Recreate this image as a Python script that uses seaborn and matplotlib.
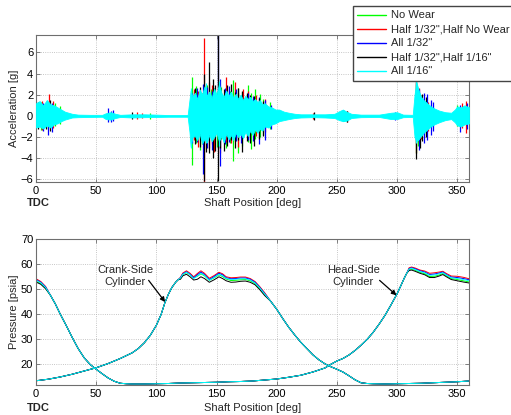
import numpy as np
import pandas as pd
import matplotlib
matplotlib.use("Agg")
import matplotlib.pyplot as plt
from matplotlib.lines import Line2D
import seaborn as sns

# ---------------------------------------------------------------- series
series = ['No Wear', 'Half 1/32",Half No Wear', 'All 1/32"',
          'Half 1/32",Half 1/16"', 'All 1/16"']
colors = ['#00ff00', '#ff0000', '#0000ff', '#000000', '#00ffff']

# ------------------------------------------------- crosshead acceleration
# envelope of the "All 1/16"" trace (deg, upper g, lower g)
acc_env_deg = [0, 3, 6, 9, 12, 15, 18, 21, 24, 27, 30, 35, 45, 55, 58, 62, 66,
               70, 80, 90, 100, 110, 126, 127.5, 128.5, 130, 132, 134, 136,
               138, 140, 142, 144, 146, 148, 150, 152, 154, 156, 158, 160,
               162, 164, 166, 168, 170, 172, 174, 176, 178, 180, 182, 184,
               186, 188, 190, 193, 196, 199, 202, 206, 210, 215, 220, 230,
               240, 248, 252, 255, 258, 262, 270, 285, 295, 300, 305, 313,
               314.5, 316, 318, 320, 322, 325, 328, 331, 335, 340, 345, 348,
               350, 353, 356, 360]
acc_env_hi = [1.2, 1.4, 1.0, 1.5, 1.1, 1.0, 0.8, 0.6, 0.4, 0.3, 0.2, 0.12,
              0.1, 0.1, 0.25, 0.35, 0.2, 0.1, 0.15, 0.15, 0.12, 0.08, 0.08,
              1.5, 2.4, 1.8, 2.2, 1.6, 2.5, 2.0, 2.8, 1.9, 2.3, 1.7, 2.6,
              2.0, 3.0, 2.2, 1.8, 2.4, 1.9, 2.3, 1.7, 2.1, 1.6, 2.0, 1.5,
              1.9, 1.6, 1.8, 1.4, 1.6, 1.3, 1.5, 1.1, 1.2, 0.9, 0.8, 0.6,
              0.6, 0.4, 0.3, 0.2, 0.15, 0.15, 0.15, 0.2, 0.45, 0.6, 0.4, 0.2,
              0.12, 0.12, 0.3, 0.35, 0.12, 0.1, 2.0, 3.2, 2.4, 1.8, 1.5, 1.2,
              0.9, 0.7, 0.5, 0.35, 0.3, 0.6, 0.9, 0.8, 1.0, 0.8]
acc_env_lo = [-1.1, -1.0, -1.2, -0.9, -1.1, -0.8, -0.7, -0.5, -0.35, -0.25,
              -0.15, -0.12, -0.1, -0.08, -0.3, -0.35, -0.2, -0.1, -0.15,
              -0.12, -0.1, -0.08, -0.08, -1.5, -2.9, -2.0, -1.9, -2.3, -1.7,
              -2.6, -2.2, -2.5, -1.8, -2.4, -2.0, -1.6, -2.4, -1.9, -2.5,
              -1.7, -2.2, -1.8, -2.3, -1.6, -2.0, -1.7, -2.1, -1.5, -1.9,
              -1.4, -1.8, -1.3, -1.6, -1.2, -1.4, -1.0, -1.1, -0.8, -0.7,
              -0.5, -0.4, -0.3, -0.2, -0.15, -0.12, -0.15, -0.2, -0.4, -0.5,
              -0.45, -0.2, -0.12, -0.1, -0.3, -0.3, -0.12, -0.1, -2.0, -2.4,
              -2.2, -1.9, -1.6, -1.3, -1.0, -0.8, -0.6, -0.4, -0.3, -0.6,
              -0.9, -1.0, -0.8, -0.7]

# individual excursions of each trace: (deg, min g, max g)
acc_peaks = {
    'No Wear': [(4, -1.3, 1.3), (10, -1.2, 1.3), (16, -1.0, 1.2),
                (20, -0.8, 0.9), (95, -0.25, 0.25), (129.4, -4.6, 3.7),
                (131, -2.2, 2.4), (133, -2.6, 2.8), (136, -3.2, 1.5),
                (138, -2.7, 2.2), (142, -2.4, 2.9), (145, -2.0, 2.5),
                (150, -2.9, 2.3), (154, -2.2, 2.7), (158, -3.0, 2.0),
                (161, -2.6, 2.4), (164, -4.3, 3.4), (168, -3.5, 2.6),
                (171, -2.8, 2.3), (176, -2.5, 2.9), (179, -3.1, 2.2),
                (182, -2.2, 2.5), (186, -2.0, 2.1), (189, -1.8, 1.6),
                (194, -1.2, 1.3), (256, -0.5, 0.5), (298, -0.3, 0.3),
                (315.5, -3.5, 3.0), (317, -2.8, 2.2), (320, -2.0, 1.6),
                (324, -1.6, 1.4), (350, -1.0, 1.0)],
    'Half 1/32",Half No Wear': [(5, -1.3, 1.4), (11, -1.0, 2.1),
                (14, -1.1, 1.4), (84, -0.3, 0.4), (88, -0.2, 0.3),
                (131, -2.3, 2.5), (135, -2.9, 2.4), (139.8, -6.3, 7.4),
                (144, -3.0, 3.2), (146, -2.7, 2.9), (148, -3.4, 2.6),
                (153, -3.5, 2.8), (158, -2.5, 3.7), (162, -2.6, 2.3),
                (165, -2.4, 3.2), (168, -2.9, 2.2), (172, -1.8, 2.5),
                (176, -2.0, 2.4), (183, -1.9, 2.0), (190, -1.5, 1.6),
                (230, -0.3, 0.3), (258, -0.6, 0.5), (316, -3.5, 3.3),
                (318, -2.5, 2.6), (320, -2.2, 2.0), (326, -1.4, 1.3),
                (354, -1.1, 1.2), (357, -1.6, 1.4)],
    'All 1/32"': [(6, -1.4, 1.2), (10, -1.8, 1.0), (13, -1.5, 1.2),
                (60, -0.6, 0.7), (62, -0.6, 0.5), (64, -0.5, 0.6),
                (130, -2.6, 2.2), (134, -2.5, 2.6), (139, -5.5, 3.0),
                (142, -3.0, 2.7), (146, -3.2, 2.4), (151.5, -3.0, 7.65),
                (153, -4.7, 3.5), (157, -2.7, 2.6), (160, -2.5, 2.8),
                (166, -2.4, 2.5), (170, -2.6, 2.0), (176, -2.3, 2.2),
                (180, -2.4, 1.9), (185, -2.7, 1.8), (190, -2.3, 1.5),
                (195, -1.2, 1.0), (255, -0.5, 0.6), (298, -0.35, 0.35),
                (318, -3.2, 2.5), (322, -2.6, 2.2), (325, -2.3, 2.1),
                (328, -1.8, 1.5), (330, -1.4, 1.3), (352, -1.5, 1.0),
                (358, -1.2, 1.2)],
    'Half 1/32",Half 1/16"': [(2, -1.2, 1.3), (8, -1.2, 1.0),
                (12, -1.4, 1.5), (80, -0.3, 0.35), (132, -2.7, 2.6),
                (136, -2.9, 2.7), (139.5, -6.2, 4.0), (141, -3.4, 2.9),
                (143.6, -3.5, 5.1), (147, -4.0, 3.5), (149, -3.3, 2.9),
                (151, -6.2, 7.65), (153, -3.0, 2.6), (156, -3.3, 2.5),
                (159, -2.8, 2.9), (162, -2.3, 3.0), (165, -3.0, 2.3),
                (168, -2.3, 2.6), (171, -3.4, 2.4), (175, -2.4, 2.2),
                (178, -2.6, 2.0), (181, -2.8, 1.9), (185, -2.2, 1.7),
                (189, -1.9, 1.4), (231, -0.4, 0.35), (258, -0.55, 0.45),
                (316, -4.05, 3.2), (319, -3.0, 2.0), (321, -2.4, 2.1),
                (324, -2.0, 1.8)],
    'All 1/16"': [(129, -3.0, 2.6), (141, -2.6, 3.1), (152, -2.8, 3.3),
                (316, -2.6, 3.4)],
}

# ------------------------------------------------------ cylinder pressure
# crank-side cylinder: shared compression ramp, per-trace plateau, shared
# expansion and suction line
crank_rise_deg = [0, 10, 20, 30, 40, 50, 60, 70, 80, 85, 90, 95, 100, 104,
                  107, 110, 113, 116, 118]
crank_rise_p = [13.4, 14.0, 14.9, 16.0, 17.3, 18.6, 20.3, 22.3, 24.6, 26.3,
                28.6, 31.6, 35.6, 40.0, 44.5, 48.0, 50.8, 52.8, 53.8]
crank_top_deg = [120, 122, 125, 128, 131, 134, 137, 140, 144, 148, 152, 155,
                 158, 162, 166, 170, 174, 178, 182, 186, 190]
crank_top_p = {
    'No Wear': [54.3, 55.9, 56.7, 55.8, 54.6, 55.2, 56.2, 55.4, 53.6, 54.6,
                55.8, 55.1, 54.1, 53.5, 53.6, 53.8, 53.9, 53.4, 52.3, 50.2,
                47.9],
    'Half 1/32",Half No Wear': [54.8, 56.5, 57.4, 56.4, 55.0, 56.3, 57.4,
                56.4, 54.4, 55.5, 56.8, 56.2, 55.0, 54.6, 54.7, 54.9, 54.9,
                54.3, 53.1, 51.0, 48.6],
    'All 1/32"': [54.6, 56.2, 57.0, 56.0, 54.6, 55.8, 56.9, 55.9, 53.9, 55.1,
                56.4, 55.8, 54.6, 54.2, 54.3, 54.5, 54.5, 54.0, 52.8, 50.7,
                48.3],
    'Half 1/32",Half 1/16"': [54.0, 55.4, 56.0, 55.0, 53.7, 54.0, 55.0, 54.3,
                52.8, 53.8, 55.0, 54.3, 53.4, 52.8, 52.9, 53.2, 53.3, 52.8,
                51.8, 49.8, 47.5],
    'All 1/16"': [54.5, 56.0, 56.8, 55.8, 54.3, 55.3, 56.4, 55.6, 53.6, 54.7,
                56.0, 55.4, 54.3, 53.9, 54.0, 54.2, 54.2, 53.7, 52.5, 50.5,
                48.1],
}
crank_fall_deg = [195, 200, 205, 210, 215, 220, 225, 230, 235, 240, 245, 250,
                  255, 260, 265, 270, 275, 280, 290, 300, 310, 320, 330, 340,
                  350, 360]
crank_fall_p = [45.2, 42.0, 38.3, 34.8, 31.7, 28.8, 26.3, 23.8, 21.8, 20.2,
                19.0, 18.0, 16.9, 15.4, 13.8, 12.6, 12.3, 12.2, 12.1, 12.2,
                12.3, 12.4, 12.6, 12.8, 13.0, 13.3]

# head-side cylinder: per-trace start, shared expansion, suction and
# compression, per-trace plateau
head_start_deg = [0, 4, 8]
head_start_p = {
    'No Wear': [53.2, 52.3, 50.4],
    'Half 1/32",Half No Wear': [54.2, 53.1, 51.1],
    'All 1/32"': [53.9, 52.8, 50.9],
    'Half 1/32",Half 1/16"': [52.9, 52.0, 50.2],
    'All 1/16"': [53.6, 52.6, 50.7],
}
head_mid_deg = [12, 16, 20, 25, 30, 35, 40, 45, 50, 55, 60, 65, 70, 75, 80,
                90, 100, 110, 120, 130, 140, 150, 160, 170, 180, 190, 200,
                210, 220, 230, 240, 245, 250, 255, 260, 265, 270, 275, 280,
                285, 290, 295, 300, 303, 306, 308]
head_mid_p = [47.6, 44.2, 40.2, 35.6, 30.8, 26.3, 22.6, 19.9, 18.0, 16.2,
              14.5, 13.2, 12.4, 12.2, 12.1, 12.1, 12.2, 12.3, 12.5, 12.6,
              12.7, 12.8, 13.0, 13.1, 13.3, 13.7, 14.1, 14.8, 15.6, 16.9,
              18.5, 20.0, 21.3, 22.3, 23.7, 25.5, 27.6, 29.9, 32.7, 36.0,
              39.6, 43.8, 48.2, 51.3, 54.5, 56.4]
head_top_deg = [310, 312, 315, 319, 323, 327, 331, 335, 338, 341, 345, 350,
                355, 360]
head_top_p = {
    'No Wear': [57.9, 58.1, 57.6, 56.8, 56.2, 55.1, 55.2, 55.7, 56.3, 55.4,
                54.3, 53.9, 53.4, 52.9],
    'Half 1/32",Half No Wear': [58.6, 58.9, 58.5, 57.7, 57.3, 56.4, 56.6,
                56.9, 57.2, 56.3, 55.3, 55.2, 54.8, 54.2],
    'All 1/32"': [58.3, 58.6, 58.2, 57.4, 56.9, 55.9, 56.1, 56.5, 56.9, 55.9,
                54.9, 54.7, 54.3, 53.8],
    'Half 1/32",Half 1/16"': [57.5, 57.7, 57.2, 56.4, 55.8, 54.7, 54.7, 55.3,
                55.9, 55.0, 53.9, 53.4, 52.9, 52.5],
    'All 1/16"': [58.1, 58.4, 57.9, 57.1, 56.6, 55.6, 55.7, 56.2, 56.6, 55.7,
                54.6, 54.3, 53.9, 53.4],
}

x_ticks = [0, 50, 100, 150, 200, 250, 300, 350]
acc_ticks = [-6, -4, -2, 0, 2, 4, 6]
p_ticks = [20, 30, 40, 50, 60, 70]

# ------------------------------------------------------------------ style
FS = 8
sns.set_style("ticks")
plt.rcParams['font.family'] = ['Liberation Sans', 'DejaVu Sans']
plt.rcParams.update({
    'font.size': FS,
    'axes.edgecolor': '#6e6e6e',
    'axes.linewidth': 0.8,
    'xtick.direction': 'in', 'ytick.direction': 'in',
    'xtick.top': True, 'ytick.right': True,
    'xtick.major.size': 3, 'ytick.major.size': 3,
    'xtick.major.width': 0.6, 'ytick.major.width': 0.6,
    'xtick.color': '#6e6e6e', 'ytick.color': '#6e6e6e',
    'xtick.labelcolor': 'black', 'ytick.labelcolor': 'black',
    'xtick.labelsize': FS, 'ytick.labelsize': FS,
    'axes.labelsize': FS,
    'xtick.major.pad': 3, 'ytick.major.pad': 2,
})

fig = plt.figure(figsize=(5.11, 4.15), dpi=100)
W, H = 511, 415


def axes_px(left, top, right, bottom):
    return fig.add_axes([left / W, 1 - bottom / H, (right - left) / W,
                         (bottom - top) / H])


ax1 = axes_px(36, 35, 469.3, 182)
ax2 = axes_px(36, 239.3, 469.3, 384.5)

# ------------------------------------------------------ acceleration plot
for name, col in zip(series, colors):
    pk = acc_peaks[name]
    top = name == 'All 1/16"'
    if top:
        ax1.fill_between(acc_env_deg, acc_env_lo, acc_env_hi, color=col,
                         lw=0.6, edgecolor=col, zorder=3)
    ax1.vlines([p[0] for p in pk], [p[1] for p in pk], [p[2] for p in pk],
               color=col, lw=0.9, zorder=3 if top else 2)

ax1.set_xlim(0, 360)
ax1.set_ylim(-6.25, 7.65)
ax1.set_xticks(x_ticks)
ax1.set_yticks(acc_ticks)
ax1.set_ylabel('Acceleration [g]', labelpad=1)

# -------------------------------------------------------- pressure plot
rows = []
for name in series:
    d = crank_rise_deg + crank_top_deg + crank_fall_deg
    p = crank_rise_p + crank_top_p[name] + crank_fall_p
    rows += [dict(trace=name, side='crank', deg=a, p=b) for a, b in zip(d, p)]
    d = head_start_deg + head_mid_deg + head_top_deg
    p = head_start_p[name] + head_mid_p + head_top_p[name]
    rows += [dict(trace=name, side='head', deg=a, p=b) for a, b in zip(d, p)]
pressure = pd.DataFrame(rows)

sns.lineplot(data=pressure, x='deg', y='p', hue='trace', units='side',
             estimator=None, sort=False, hue_order=series,
             palette=colors, lw=0.7, legend=False, ax=ax2)

ax2.set_xlim(0, 360)
ax2.set_ylim(11.9, 70)
ax2.set_xticks(x_ticks)
ax2.set_yticks(p_ticks)
ax2.set_xlabel('')
ax2.set_ylabel('Pressure [psia]', labelpad=1)

ax2.annotate('Crank-Side\nCylinder', xy=(107.3, 44.9), xytext=(74, 55.3),
             ha='center', va='center', fontsize=FS, linespacing=1.2,
             arrowprops=dict(arrowstyle='-|>', color='black', lw=0.9,
                             mutation_scale=7, shrinkA=0, shrinkB=0,
                             patchA=None, relpos=(0.92, 0.3)))
ax2.annotate('Head-Side\nCylinder', xy=(299.5, 47.6), xytext=(263.5, 55.3),
             ha='center', va='center', fontsize=FS, linespacing=1.2,
             arrowprops=dict(arrowstyle='-|>', color='black', lw=0.9,
                             mutation_scale=7, shrinkA=0, shrinkB=0,
                             patchA=None, relpos=(1.0, 0.3)))

for ax in (ax1, ax2):
    ax.grid(True, ls=':', lw=0.6, color='#b4b4b4')
    ax.set_axisbelow(True)
    for s in ax.spines.values():
        s.set_visible(True)

# shaft position labels with TDC marker under the zero tick
for ybase in (203, 408):
    fig.text(252.6 / W, 1 - ybase / H, 'Shaft Position [deg]', ha='center',
             va='center', fontsize=FS)
    fig.text(27 / W, 1 - ybase / H, 'TDC', ha='left', va='center',
             fontsize=FS, fontweight='bold')

# legend
handles = [Line2D([], [], color=c, lw=1.0) for c in colors]
fig.legend(handles, series, loc='upper left',
           bbox_to_anchor=(353 / W, 1 - 6 / H), fontsize=FS,
           frameon=True, fancybox=False, framealpha=1, edgecolor='#444444',
           handlelength=2.6, handletextpad=0.45, labelspacing=0.36,
           borderpad=0.4, borderaxespad=0)

fig.savefig('out.png', dpi=100)
